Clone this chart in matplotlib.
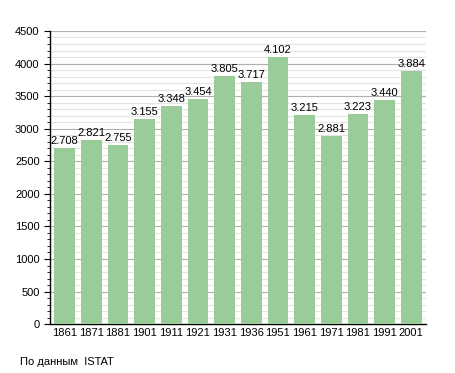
import matplotlib.pyplot as plt
from matplotlib.ticker import MultipleLocator

years = ["1861", "1871", "1881", "1901", "1911", "1921", "1931",
         "1936", "1951", "1961", "1971", "1981", "1991", "2001"]
population = [2708, 2821, 2755, 3155, 3348, 3454, 3805,
              3717, 4102, 3215, 2881, 3223, 3440, 3884]

plt.rcParams['font.family'] = ['Liberation Sans', 'DejaVu Sans']

fig = plt.figure(figsize=(4.55, 3.73), dpi=100)
ax = fig.add_axes([0.11, 0.131, 0.826, 0.786])

x = range(len(years))
bars = ax.bar(x, population, width=0.78, color='#99cc99', zorder=3)

for xi, v in zip(x, population):
    label = f"{v:,}".replace(",", ".")
    ax.text(xi, v + 30, label, ha='center', va='bottom', fontsize=8, zorder=4)

ax.set_xlim(-0.55, len(years) - 0.45)
ax.set_ylim(0, 4500)
ax.set_xticks(list(x))
ax.set_xticklabels(years)
ax.yaxis.set_major_locator(MultipleLocator(500))
ax.yaxis.set_minor_locator(MultipleLocator(100))
ax.tick_params(axis='both', labelsize=8, direction='out')
ax.tick_params(axis='x', length=0, pad=3)
ax.tick_params(axis='y', which='major', length=4)
ax.tick_params(axis='y', which='minor', length=2)

ax.grid(axis='y', which='major', color='#b0b0b0', linewidth=0.8, zorder=0)
ax.grid(axis='y', which='minor', color='#e4e4e4', linewidth=0.8, zorder=0)
for side in ['top', 'right']:
    ax.spines[side].set_visible(False)
ax.spines['left'].set_linewidth(1.0)
ax.spines['bottom'].set_linewidth(1.0)

fig.text(20 / 455, 1 - 362 / 373, "По данным  ISTAT", fontsize=8, va='center')

fig.savefig("out.png", dpi=100)
